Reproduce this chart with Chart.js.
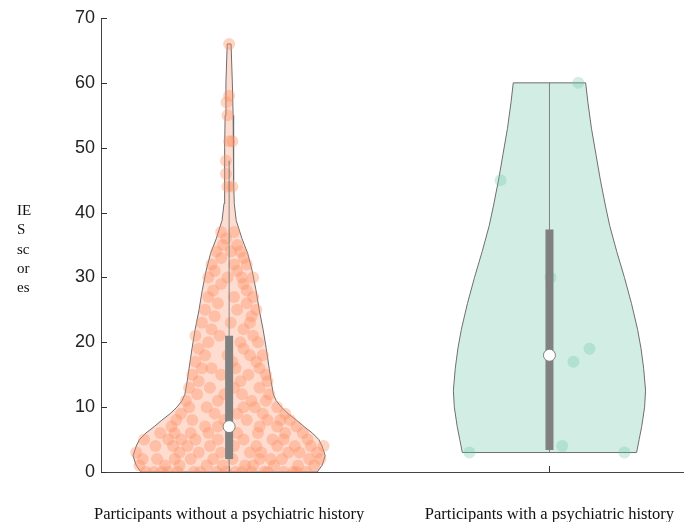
<!DOCTYPE html>
<html>
<head>
<meta charset="utf-8">
<script src="https://cdn.jsdelivr.net/npm/chart.js@4.4.0/dist/chart.umd.min.js"></script>
<style>
  body { margin: 0; background: #fff; }
</style>
</head>
<body>
<canvas id="violin" width="684" height="522"></canvas>
<script>
var categories = ['Participants without a psychiatric history', 'Participants with a psychiatric history'];
var yTicks = [0, 10, 20, 30, 40, 50, 60, 70];
var yTitleLines = ['IE', 'S', 'sc', 'or', 'es'];

// violin outlines: score level and half width (in category units)
var leftLevels = [0, 1, 2.5, 4, 5, 6, 7, 8, 9, 10, 11, 12, 14, 16, 19, 22, 25, 28, 31, 33.7, 36, 38.8, 41.4, 45, 50, 55, 60, 66];
var leftWidths = [0.275, 0.29, 0.3, 0.29, 0.28, 0.26, 0.234, 0.21, 0.184, 0.163, 0.147, 0.138, 0.131, 0.125, 0.116, 0.106, 0.094, 0.084, 0.072, 0.058, 0.04, 0.022, 0.016, 0.014, 0.014, 0.0125, 0.01, 0.006];
var rightLevels = [3, 5, 7, 10, 12.6, 16, 19, 22, 26, 30, 34, 38, 41, 45, 49, 53, 57, 60];
var rightWidths = [0.272, 0.28, 0.288, 0.297, 0.3, 0.294, 0.286, 0.275, 0.256, 0.234, 0.21, 0.188, 0.175, 0.159, 0.145, 0.131, 0.12, 0.113];

// box stats: whisker low, q1, median, q3, whisker high
var leftBox = [0, 2, 7, 21, 48];
var rightBox = [3, 3.4, 18, 37.4, 60];

// individual scores and their horizontal jitter
var leftScores = [
  0,0,0,0,0,0,0,0,0,0,0,0,0,0,0,0,0,0,
  1,1,1,1,1,1,1,1,1,1,
  2,2,2,2,2,2,2,2,2,2,2,
  3,3,3,3,3,3,3,3,3,
  4,4,4,4,4,4,4,4,4,4,
  5,5,5,5,5,5,5,5,5,
  6,6,6,6,6,6,6,6,
  7,7,7,7,7,7,
  8,8,8,8,8,8,8,
  9,9,9,9,9,
  10,10,10,10,10,
  11,11,11,11, 12,12,12,12, 13,13,13,13, 14,14,14,
  15,15,15,15, 16,16,16,16, 17,17,17, 18,18,18,18,
  19,19, 20,20,20, 21,21,21, 22,22, 23,23,23, 24,24,
  25,25,25, 26,26, 27,27,27, 28,28, 29,29,
  30,30,30,30, 31,31, 32,32,32, 33,33, 34,34,34, 35,35, 36, 37,37,
  44,44, 46, 48, 51,51, 55, 57, 58, 66
];
var leftJitter = [
  -0.26,-0.21,-0.19,-0.16,-0.11,-0.09,-0.04,-0.01,0.02,0.04,0.07,0.11,0.12,0.17,0.2,0.21,0.24,-0.235,
  -0.28,-0.2,-0.155,-0.07,-0.02,0.05,0.075,0.14,0.215,0.265,
  -0.27,-0.225,-0.12,-0.05,0.01,0.095,0.13,0.165,0.25,0.285,-0.17,
  -0.29,-0.155,-0.095,-0.025,0.065,0.1,0.185,0.22,0.275,
  -0.23,-0.175,-0.06,0.015,0.085,0.15,0.205,0.255,0.295,-0.13,
  -0.265,-0.19,-0.105,-0.035,0.045,0.135,0.17,0.245,-0.15,
  -0.215,-0.12,-0.065,0.025,0.09,0.175,0.23,-0.17,
  -0.18,-0.075,-0.035,0.095,0.15,0.21,
  -0.165,-0.115,-0.015,0.055,0.12,0.19,0.16,
  -0.15,-0.045,0.025,0.105,0.175,
  -0.125,-0.07,0.045,0.08,0.15,
  -0.135,-0.035,0.07,0.115, -0.1,-0.015,0.04,0.125, -0.125,-0.06,0.015,0.095, -0.095,0.035,0.12,
  -0.115,-0.025,0.06,0.115, -0.085,-0.055,0.02,0.095, -0.105,0.01,0.085, -0.075,-0.005,0.065,0.105,
  -0.095,0.045, -0.065,0.035,0.09, -0.105,-0.03,0.075, -0.055,0.045, -0.085,0.005,0.065, -0.045,0.07,
  -0.075,0.025,0.085, -0.035,0.055, -0.065,0.015,0.075, -0.05,0.055, -0.025,0.045,
  -0.065,-0.005,0.04,0.075, -0.045,0.025, -0.055,0.015,0.055, -0.025,0.045, -0.04,0.005,0.035, -0.02,0.025, -0.01, -0.025,0.015,
  -0.005,0.01, -0.01, -0.01, 0.0,0.01, -0.005, -0.008, 0.0, 0.0
];
var rightScores = [60, 45, 30, 19, 17, 4, 3, 3];
var rightJitter = [0.09, -0.153, 0.003, 0.125, 0.075, 0.04, -0.25, 0.234];

var leftFill = 'rgba(252, 141, 98, 0.3)';
var leftDot = 'rgba(252, 141, 98, 0.38)';
var rightFill = 'rgba(102, 194, 165, 0.3)';
var rightDot = 'rgba(102, 194, 165, 0.3)';
var edge = '#6e6e6e';
var boxGrey = '#808080';

function outline(center, levels, widths) {
  var pts = [];
  for (var i = 0; i < levels.length; i++) pts.push({x: center - widths[i], y: levels[i]});
  for (var j = levels.length - 1; j >= 0; j--) pts.push({x: center + widths[j], y: levels[j]});
  pts.push({x: center - widths[0], y: levels[0]});
  return pts;
}

function dots(center, scores, jitter) {
  var pts = [];
  for (var i = 0; i < scores.length; i++) pts.push({x: center + jitter[i], y: scores[i]});
  return pts;
}

function violinSet(center, levels, widths, fill) {
  return {
    data: outline(center, levels, widths), borderColor: edge, borderWidth: 1,
    backgroundColor: fill, fill: 'shape', tension: 0, pointRadius: 0, order: 5
  };
}
function dotSet(center, scores, jitter, color) {
  return {
    data: dots(center, scores, jitter), showLine: false, pointRadius: 6,
    pointBackgroundColor: color, pointBorderWidth: 0, order: 4
  };
}
function whiskerSet(center, box) {
  return {
    data: [{x: center, y: box[0]}, {x: center, y: box[4]}], borderColor: boxGrey,
    borderWidth: 1, pointRadius: 0, fill: false, order: 3
  };
}
function iqrSet(center, box) {
  return {
    data: [{x: center, y: box[1]}, {x: center, y: box[3]}], borderColor: boxGrey,
    borderWidth: 8, borderCapStyle: 'butt', pointRadius: 0, fill: false, order: 2
  };
}
function medianSet(center, box) {
  return {
    data: [{x: center, y: box[2]}], showLine: false, pointRadius: 6,
    pointBackgroundColor: '#ffffff', pointBorderColor: boxGrey, pointBorderWidth: 1, order: 1
  };
}

var extras = {
  id: 'extras',
  beforeDatasetsDraw: function(chart) {
    var ctx = chart.ctx, area = chart.chartArea;
    var xs = chart.scales.x, ys = chart.scales.y;
    ctx.save();
    ctx.strokeStyle = '#333';
    ctx.lineWidth = 1;
    ctx.beginPath();
    yTicks.forEach(function(v) {
      var py = Math.round(ys.getPixelForValue(v)) + 0.5;
      ctx.moveTo(area.left, py);
      ctx.lineTo(area.left + 6, py);
    });
    [1, 2].forEach(function(v) {
      var px = Math.round(xs.getPixelForValue(v)) + 0.5;
      ctx.moveTo(px, area.bottom);
      ctx.lineTo(px, area.bottom - 6);
    });
    ctx.stroke();
    ctx.restore();
  },
  afterDraw: function(chart) {
    var ctx = chart.ctx;
    ctx.save();
    ctx.fillStyle = '#111';
    ctx.font = '15px "Liberation Serif", serif';
    ctx.textBaseline = 'middle';
    yTitleLines.forEach(function(t, i) {
      ctx.fillText(t, 17, 211 + i * 19.3);
    });
    ctx.restore();
  }
};

var ctx = document.getElementById('violin');
new Chart(ctx, {
  type: 'line',
  data: {
    datasets: [
      violinSet(1, leftLevels, leftWidths, leftFill),
      violinSet(2, rightLevels, rightWidths, rightFill),
      dotSet(1, leftScores, leftJitter, leftDot),
      dotSet(2, rightScores, rightJitter, rightDot),
      whiskerSet(1, leftBox), whiskerSet(2, rightBox),
      iqrSet(1, leftBox), iqrSet(2, rightBox),
      medianSet(1, leftBox), medianSet(2, rightBox)
    ]
  },
  options: {
    responsive: false,
    animation: false,
    layout: { autoPadding: false, padding: { top: 18, right: 0, left: 0, bottom: 0 } },
    plugins: { legend: { display: false }, tooltip: { enabled: false } },
    scales: {
      x: {
        type: 'linear', min: 0.6, max: 2.42,
        grid: { display: false, drawTicks: false },
        border: { display: true, color: '#444', width: 1 },
        afterBuildTicks: function(s) { s.ticks = [{value: 1}, {value: 2}]; },
        afterFit: function(s) { s.height = 50; s.paddingLeft = 0; s.paddingRight = 0; },
        ticks: {
          autoSkip: false, maxRotation: 0, padding: 33, color: '#111',
          font: { family: '"Liberation Serif", serif', size: 16.5 },
          callback: function(v) { return categories[v - 1]; }
        }
      },
      y: {
        min: 0, max: 70,
        grid: { display: false, drawTicks: false },
        border: { display: true, color: '#444', width: 1 },
        afterBuildTicks: function(s) { s.ticks = yTicks.map(function(v) { return {value: v}; }); },
        afterFit: function(s) { s.width = 101; s.paddingTop = 0; s.paddingBottom = 0; },
        ticks: {
          padding: 6, color: '#222',
          font: { family: '"Liberation Sans", Arial, sans-serif', size: 18 }
        }
      }
    }
  },
  plugins: [extras]
});
</script>
</body>
</html>
